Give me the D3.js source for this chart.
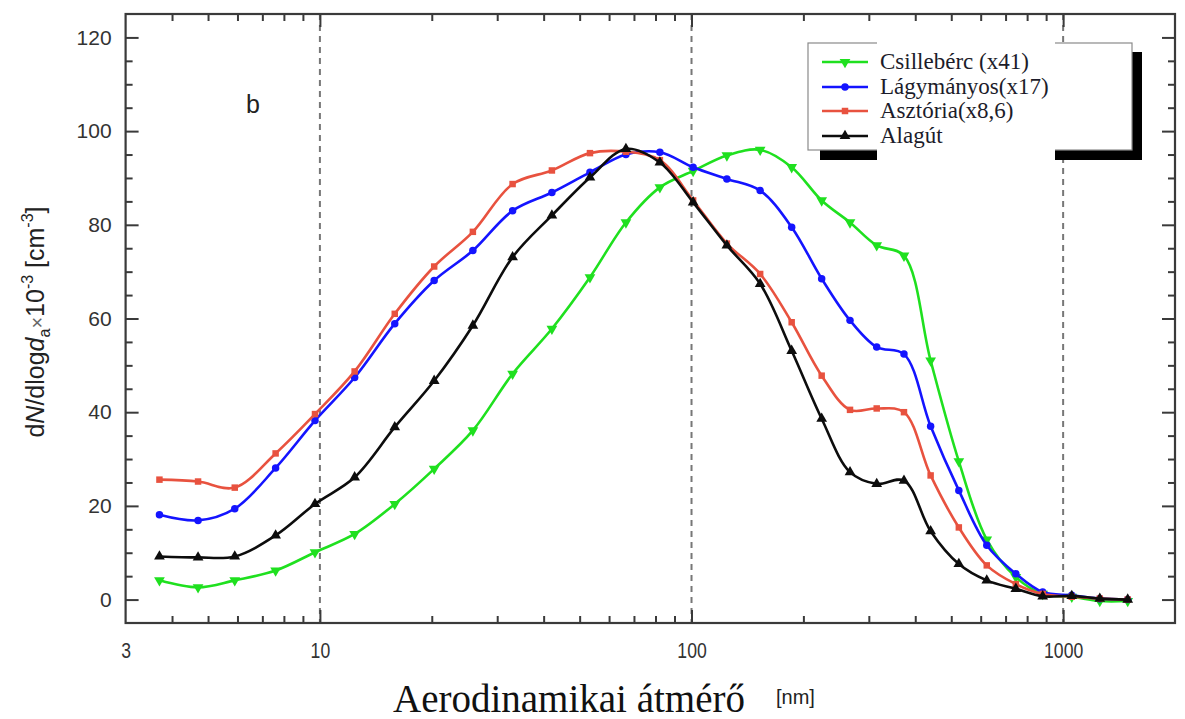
<!DOCTYPE html>
<html>
<head>
<meta charset="utf-8">
<script src="https://cdn.jsdelivr.net/npm/d3@7"></script>
<style>
  html, body { margin: 0; padding: 0; background: #fff; }
  svg { display: block; }
</style>
</head>
<body>
<svg id="chart" width="1185" height="719"></svg>
<script>
// ---- data ----
const sizes = [3.7, 4.7, 5.9, 7.6, 9.7, 12.4, 15.9, 20.3, 25.8, 33.0, 42.1, 53.3, 66.6, 82.2, 101, 124.5, 153, 186, 224, 267, 315, 373, 440, 524, 623, 746, 881, 1055, 1255, 1492];
const csilleberc = [4.1, 2.6, 4.1, 6.2, 10.1, 14.0, 20.4, 27.9, 36.1, 48.2, 57.8, 68.8, 80.5, 88.0, 91.5, 94.8, 96.0, 92.3, 85.2, 80.5, 75.6, 73.4, 51.0, 29.5, 12.8, 4.8, 1.2, 0.6, -0.3, -0.3];
const lagymanyos = [18.1, 16.9, 19.4, 28.1, 38.2, 47.4, 58.9, 68.1, 74.5, 83.0, 86.9, 91.2, 95.0, 95.5, 92.3, 89.8, 87.3, 79.5, 68.5, 59.6, 53.9, 52.4, 37.0, 23.3, 11.6, 5.5, 1.6, 0.9, 0.2, 0.0];
const asztoria = [25.6, 25.2, 23.9, 31.2, 39.6, 48.7, 61.0, 71.1, 78.5, 88.7, 91.6, 95.3, 95.6, 93.8, 85.2, 76.0, 69.5, 59.2, 47.8, 40.5, 40.8, 40.0, 26.5, 15.4, 7.3, 3.3, 1.2, 0.6, 0.2, 0.0];
const alagut = [9.2, 9.0, 9.2, 13.7, 20.4, 26.1, 36.8, 46.7, 58.5, 73.1, 82.0, 90.1, 96.2, 93.3, 84.8, 75.6, 67.4, 53.1, 38.6, 27.2, 24.7, 25.4, 14.6, 7.6, 4.1, 2.3, 0.7, 0.8, 0.2, 0.0];
const seriesNames = ["Csillebérc (x41)", "Lágymányos(x17)", "Asztória(x8,6)", "Alagút"];
const xLabelTicks = [3, 10, 100, 1000];
const xMajorTicks = [10, 100, 1000];
const xMinorTicks = [4, 5, 6, 7, 8, 9, 20, 30, 40, 50, 60, 70, 80, 90, 200, 300, 400, 500, 600, 700, 800, 900];
const yMajorTicks = [0, 20, 40, 60, 80, 100, 120];
const yMinorTicks = [5, 10, 15, 25, 30, 35, 45, 50, 55, 65, 70, 75, 85, 90, 95, 105, 110, 115];
const dashedAt = [10, 100, 1000];

// ---- setup ----
const svg = d3.select("#chart");
const L = 125.6, R = 1175, T = 14, B = 623;
const x = d3.scaleLog().domain([3, 2000]).range([L, R]);
const y = d3.scaleLinear().domain([-5, 125]).range([B, T]);
const axisColor = "#3a3a3a";

// dashed reference lines
svg.append("g").selectAll("line").data(dashedAt).join("line")
  .attr("x1", d => x(d)).attr("x2", d => x(d))
  .attr("y1", T).attr("y2", B)
  .attr("stroke", "#777").attr("stroke-width", 2)
  .attr("stroke-dasharray", "6,5");

function styleAxis(g) {
  g.select(".domain").remove();
  g.selectAll(".tick line").attr("stroke", axisColor).attr("stroke-width", 2);
  return g;
}
// bottom
svg.append("g").attr("transform", `translate(0,${B})`)
  .call(d3.axisBottom(x).tickValues(xMinorTicks).tickSize(-7).tickFormat("")).call(styleAxis);
svg.append("g").attr("transform", `translate(0,${B})`)
  .call(d3.axisBottom(x).tickValues(xMajorTicks).tickSize(-13).tickFormat("")).call(styleAxis);
const xl = svg.append("g").attr("transform", `translate(0,${B})`)
  .call(d3.axisBottom(x).tickValues(xLabelTicks).tickSize(0).tickPadding(19).tickFormat(d3.format("d")));
xl.select(".domain").remove();
xl.selectAll("text").attr("font-family", "Liberation Sans, Arial, sans-serif")
  .attr("font-size", 22).attr("fill", "#333").attr("transform", "scale(0.8,1)")
  .attr("x", function() { return 0; });
// top
svg.append("g").attr("transform", `translate(0,${T})`)
  .call(d3.axisTop(x).tickValues(xMinorTicks).tickSize(-7).tickFormat("")).call(styleAxis);
svg.append("g").attr("transform", `translate(0,${T})`)
  .call(d3.axisTop(x).tickValues(xMajorTicks).tickSize(-13).tickFormat("")).call(styleAxis);
// left
svg.append("g").attr("transform", `translate(${L},0)`)
  .call(d3.axisLeft(y).tickValues(yMinorTicks).tickSize(-7).tickFormat("")).call(styleAxis);
const yl = svg.append("g").attr("transform", `translate(${L},0)`)
  .call(d3.axisLeft(y).tickValues(yMajorTicks).tickSize(-13).tickFormat(d3.format("d")));
styleAxis(yl);
yl.selectAll("text").attr("x", -14).attr("font-family", "Liberation Sans, Arial, sans-serif")
  .attr("font-size", 21).attr("fill", "#333");
// right
svg.append("g").attr("transform", `translate(${R},0)`)
  .call(d3.axisRight(y).tickValues(yMinorTicks).tickSize(-7).tickFormat("")).call(styleAxis);
svg.append("g").attr("transform", `translate(${R},0)`)
  .call(d3.axisRight(y).tickValues(yMajorTicks).tickSize(-13).tickFormat("")).call(styleAxis);

// frame
svg.append("rect").attr("x", L).attr("y", T).attr("width", R - L).attr("height", B - T)
  .attr("fill", "none").attr("stroke", axisColor).attr("stroke-width", 2.2);

// series
const series = [
  { name: seriesNames[0], values: csilleberc, color: "#1fe01f", symbol: "down" },
  { name: seriesNames[1], values: lagymanyos, color: "#1414ff", symbol: "circle" },
  { name: seriesNames[2], values: asztoria, color: "#e8523f", symbol: "square" },
  { name: seriesNames[3], values: alagut, color: "#0d0d0d", symbol: "up" }
];
const line = d3.line().curve(d3.curveCatmullRom.alpha(0.5))
  .x((d, i) => x(sizes[i])).y(d => y(d));

function symbolPath(kind) {
  if (kind === "circle") return d3.symbol(d3.symbolCircle, 44)();
  if (kind === "square") return d3.symbol(d3.symbolSquare, 42)();
  return d3.symbol(d3.symbolTriangle, 50)();
}
function symbolRotate(kind) { return kind === "down" ? " rotate(180)" : ""; }

series.forEach(s => {
  const g = svg.append("g");
  g.append("path").attr("d", line(s.values)).attr("fill", "none")
    .attr("stroke", s.color).attr("stroke-width", 2.6).attr("stroke-linejoin", "round");
  g.selectAll("path.m").data(s.values).join("path").attr("class", "m")
    .attr("d", symbolPath(s.symbol))
    .attr("transform", (d, i) => `translate(${x(sizes[i])},${y(d)})` + symbolRotate(s.symbol))
    .attr("fill", s.color);
});

// panel label
svg.append("text").attr("x", 246).attr("y", 113).text("b")
  .attr("font-family", "Liberation Sans, Arial, sans-serif").attr("font-size", 25).attr("fill", "#222");

// legend
const lg = svg.append("g");
lg.append("rect").attr("x", 820).attr("y", 52).attr("width", 322).attr("height", 108).attr("fill", "#000");
lg.append("rect").attr("x", 808).attr("y", 43).attr("width", 324).attr("height", 107)
  .attr("fill", "#fff").attr("stroke", "#8a8a8a").attr("stroke-width", 1.2);
lg.append("rect").attr("x", 877).attr("y", 39).attr("width", 178).attr("height", 123).attr("fill", "#fff");
const ly = [62, 87, 111, 136];
series.forEach((s, i) => {
  lg.append("line").attr("x1", 822).attr("x2", 868).attr("y1", ly[i]).attr("y2", ly[i])
    .attr("stroke", s.color).attr("stroke-width", 2.6);
  lg.append("path").attr("d", symbolPath(s.symbol))
    .attr("transform", `translate(845,${ly[i]})` + symbolRotate(s.symbol)).attr("fill", s.color);
  lg.append("text").attr("x", 880).attr("y", ly[i] + 7).text(s.name)
    .attr("font-family", "Liberation Serif, Times New Roman, serif").attr("font-size", 23).attr("fill", "#1c1c2a");
});

// x axis title
svg.append("text").attr("x", 393).attr("y", 712).text("Aerodinamikai átmérő")
  .attr("font-family", "Liberation Serif, Times New Roman, serif").attr("font-size", 39).attr("fill", "#111");
svg.append("text").attr("x", 776).attr("y", 704).text("[nm]")
  .attr("font-family", "Liberation Sans, Arial, sans-serif").attr("font-size", 20).attr("fill", "#222");

// y axis title
const yt = svg.append("text").attr("transform", "translate(44,322) rotate(-90)")
  .attr("text-anchor", "middle").attr("font-family", "Liberation Sans, Arial, sans-serif")
  .attr("font-size", 25).attr("fill", "#222");
yt.append("tspan").text("d");
yt.append("tspan").attr("font-style", "italic").text("N");
yt.append("tspan").text("/dlog");
yt.append("tspan").attr("font-style", "italic").text("d");
yt.append("tspan").attr("font-size", 16).attr("dy", 6).text("a");
yt.append("tspan").attr("dy", -6).attr("font-size", 20).attr("fill", "#666").text("×");
yt.append("tspan").text("10");
yt.append("tspan").attr("font-size", 16).attr("dy", -11).text("-3");
yt.append("tspan").attr("dy", 11).text(" [cm");
yt.append("tspan").attr("font-size", 16).attr("dy", -11).text("-3");
yt.append("tspan").attr("dy", 11).text("]");
</script>
</body>
</html>
